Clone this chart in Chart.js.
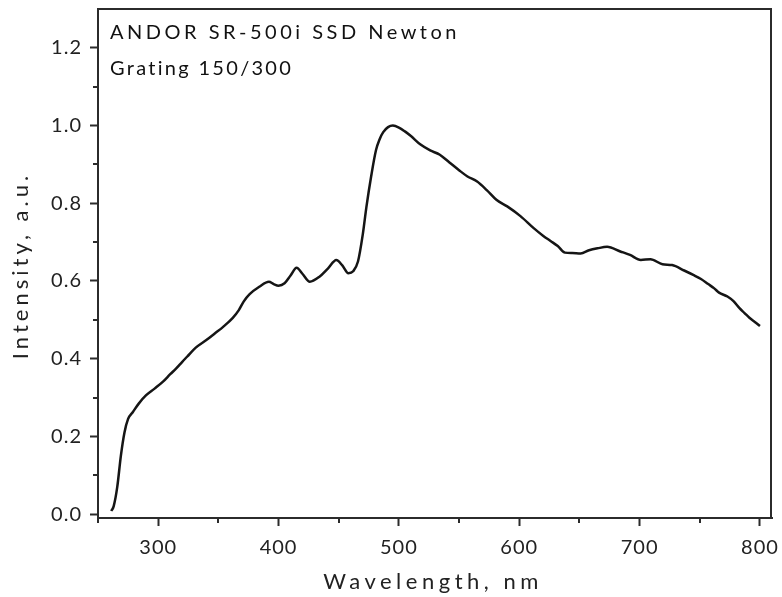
<!DOCTYPE html>
<html>
<head>
<meta charset="utf-8">
<script src="https://cdn.jsdelivr.net/npm/chart.js@4/dist/chart.umd.min.js"></script>
<style>
  html, body { margin: 0; padding: 0; background: #fff; overflow: hidden; }
  #wrap { width: 782px; height: 597px; overflow: hidden; }
  #myChart { display: block; }
</style>
</head>
<body>
<div id="wrap"><canvas id="myChart" width="782" height="597"></canvas></div>
<script>
// wavelength, nm
const wavelength = [261, 263, 266, 269, 272, 275, 279, 284, 290, 297, 304, 310, 315, 320, 324, 331, 340, 347, 354, 362, 367,
  371, 376, 384, 392, 396, 400, 405, 410, 415, 420, 426, 434, 441, 448, 453, 458, 462, 466, 470, 473, 477, 481, 484, 487,
  491, 495, 500, 505, 510, 518, 526, 534, 542, 550, 557, 565, 573, 581, 590, 601, 612, 620, 626, 632, 638, 644, 651, 658,
  665, 673, 684, 692, 701, 709, 719, 727, 737, 745, 751, 757, 762, 766, 773, 778, 783, 787, 791, 796, 800]
// intensity, a.u.
const intensity = [0.008, 0.02, 0.07, 0.15, 0.21, 0.245, 0.263, 0.285, 0.306, 0.323, 0.341, 0.36, 0.375, 0.392, 0.405, 0.428, 0.448, 0.465, 0.482, 0.505, 0.525,
  0.547, 0.566, 0.585, 0.598, 0.592, 0.588, 0.594, 0.614, 0.634, 0.618, 0.598, 0.611, 0.632, 0.654, 0.64, 0.62, 0.625, 0.65, 0.72, 0.79,
  0.87, 0.937, 0.965, 0.983, 0.996, 1.0, 0.995, 0.985, 0.973, 0.951, 0.936, 0.925, 0.905, 0.885, 0.869, 0.856, 0.834, 0.809, 0.792, 0.767, 0.736, 0.716,
  0.703, 0.69, 0.673, 0.672, 0.671, 0.679, 0.684, 0.688, 0.676, 0.667, 0.654, 0.656, 0.643, 0.641, 0.627, 0.615, 0.605, 0.592, 0.581, 0.57,
  0.56, 0.548, 0.53, 0.518, 0.506, 0.494, 0.484]

const xTicks = [300, 400, 500, 600, 700, 800]
const xMinor = [250, 350, 450, 550, 650, 750]
const yTicks = [0, 0.2, 0.4, 0.6, 0.8, 1.0, 1.2]
const yMinor = [0.1, 0.3, 0.5, 0.7, 0.9, 1.1]
const notas = ["ANDOR SR-500i SSD Newton", "Grating 150/300"]
const tituloX = "Wavelength, nm"
const tituloY = "Intensity, a.u."

const colorEje = "#2b2b2b"
const fuente = "Lato, 'Open Sans', sans-serif"

let puntos = []
wavelength.forEach(function(w, i){
    puntos.push({x: w, y: intensity[i]})
})

const marco = {
    id: "marco",
    beforeUpdate(chart){ chart.ctx.letterSpacing = "1px" },
    beforeDraw(chart){ chart.ctx.letterSpacing = "1px" },
    afterDraw(chart){
        const ctx = chart.ctx
        const x = chart.scales.x, y = chart.scales.y
        const izq = x.getPixelForValue(250), der = x.getPixelForValue(810)
        const arr = y.getPixelForValue(1.3), abj = y.getPixelForValue(-0.01)
        ctx.save()
        // top and right sides of the box
        ctx.fillStyle = colorEje
        ctx.fillRect(izq - 1, arr - 1, der - izq + 1, 2)
        ctx.fillRect(der - 2, arr - 1, 2, abj - arr + 1)
        // minor ticks
        ctx.strokeStyle = colorEje
        ctx.lineWidth = 2
        ctx.beginPath()
        xMinor.forEach(function(v){
            const px = Math.round(x.getPixelForValue(v))
            ctx.moveTo(px, abj); ctx.lineTo(px, abj + 5)
        })
        yMinor.forEach(function(v){
            const py = Math.round(y.getPixelForValue(v))
            ctx.moveTo(izq, py); ctx.lineTo(izq - 5, py)
        })
        ctx.stroke()
        // notes
        ctx.fillStyle = "#111"
        ctx.font = "20px " + fuente
        ctx.textBaseline = "alphabetic"
        ctx.textAlign = "left"
        ctx.letterSpacing = "3.5px"
        ctx.fillText(notas[0], izq + 12, 39)
        ctx.letterSpacing = "2.3px"
        ctx.fillText(notas[1], izq + 12, 75)
        // axis titles
        ctx.fillStyle = "#222"
        ctx.font = "22px " + fuente
        ctx.textAlign = "center"
        ctx.textBaseline = "middle"
        ctx.letterSpacing = "4.5px"
        ctx.fillText(tituloX, (izq + der) / 2 - 2, 582)
        ctx.translate(21, (arr + abj) / 2 + 2)
        ctx.rotate(-Math.PI / 2)
        ctx.letterSpacing = "4px"
        ctx.fillText(tituloY, 0, 0)
        ctx.restore()
    }
}

const config = {
    type: "line",
    data: {
        datasets: [{
            data: puntos,
            borderColor: "#151515",
            borderWidth: 2.5,
            pointRadius: 0,
            cubicInterpolationMode: "monotone",
            fill: false
        }]
    },
    options: {
        responsive: false,
        animation: false,
        events: [],
        layout: { padding: { top: 9, right: 10, left: 0, bottom: 0 } },
        plugins: { legend: { display: false }, tooltip: { enabled: false } },
        scales: {
            x: {
                type: "linear",
                min: 250,
                max: 810,
                afterBuildTicks(s){ s.ticks = xTicks.map(v => ({value: v})) },
                afterFit(s){ s.height = 79; s.paddingLeft = 0; s.paddingRight = 0 },
                border: { display: true, color: colorEje, width: 2 },
                grid: { drawOnChartArea: false, tickLength: 8, tickColor: colorEje, tickWidth: 2 },
                ticks: { color: "#222", font: { family: fuente, size: 20 }, padding: 10, maxRotation: 0 }
            },
            y: {
                min: -0.01,
                max: 1.3,
                afterBuildTicks(s){ s.ticks = yTicks.map(v => ({value: v})) },
                afterFit(s){ s.width = 98; s.paddingTop = 0; s.paddingBottom = 0 },
                border: { display: true, color: colorEje, width: 2 },
                grid: { drawOnChartArea: false, tickLength: 8, tickColor: colorEje, tickWidth: 2 },
                ticks: { color: "#222", font: { family: fuente, size: 20 }, padding: 8,
                         callback: v => v.toFixed(1) }
            }
        }
    },
    plugins: [marco]
}

var myChart = new Chart(document.getElementById("myChart").getContext("2d"), config)
</script>
</body>
</html>
